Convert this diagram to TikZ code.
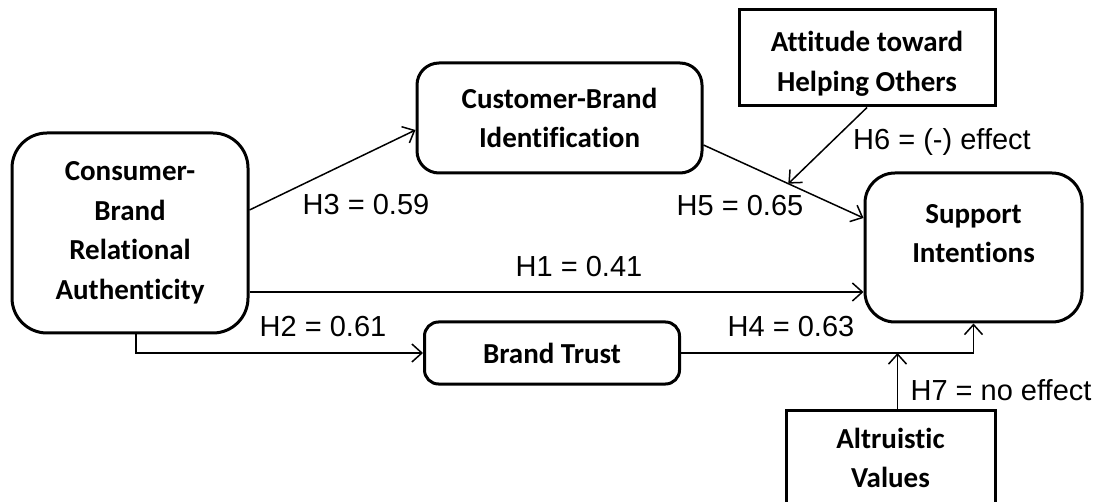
\documentclass[tikz,border=0pt]{standalone}
\usepackage{fontspec}
\setmainfont{Carlito}[Ligatures=NoCommon]
\newfontfamily\labfont{Liberation Sans}
\usetikzlibrary{arrows.meta,calc}
\begin{document}
\begin{tikzpicture}[x=1pt,y=-1pt,
  box/.style={draw,line width=3pt,align=center,font=\fontsize{29}{39.5}\selectfont\bfseries,inner sep=0pt},
  rbox/.style={box,rounded corners=#1},
  btext/.style={align=center,font=\fontsize{29}{39.5}\selectfont\bfseries,inner sep=0pt},
  conn/.style={line width=1.5pt,-{Straight Barb[length=10pt,width=18pt,line width=1.5pt]}},
  lab/.style={font=\labfont\fontsize{29}{34}\selectfont,inner sep=0pt}]
\useasboundingbox (0,0) rectangle (1100,502);
\node[rbox=35pt,minimum width=236pt,minimum height=200pt] (cbra) at (130,233) {Consumer-\\Brand\\Relational\\Authenticity};
\node[rbox=22pt,minimum width=285pt,minimum height=110pt] (cbi) at (559.5,118) {Customer-Brand\\Identification};
\node[box,minimum width=256pt,minimum height=96pt] (att) at (867,58) {};
\node[btext] (atttext) at ([yshift=-6pt]att.center) {Attitude toward\\Helping Others};
\node[rbox=30pt,minimum width=217pt,minimum height=149pt] (sup) at (973.5,247.5) {};
\node[btext] (suptext) at ([yshift=14pt]sup.center) {Support\\Intentions};
\node[rbox=14pt,minimum width=255pt,minimum height=62pt] (bt) at (552,353) {Brand Trust};
\node[box,minimum width=209pt,minimum height=96pt] (alt) at (890.5,458) {Altruistic\\Values};

\coordinate (h5s) at ([yshift=-27pt]cbi.east);
\coordinate (h5e) at ([yshift=29.5pt]sup.west);
\coordinate (h1s) at ([yshift=-59pt]cbra.east);

\draw[conn] ([yshift=23pt]cbra.east) -- ([yshift=-12pt]cbi.west);
\draw[conn] (h5s) -- (h5e);
\draw[conn] (att.south) -- ($(h5s)!0.53!(h5e)$);
\draw[conn] (h1s) -- (h1s -| sup.west);
\draw[conn] ([xshift=6pt]cbra.south) |- (bt.west);
\draw[conn] (bt.east) -| (sup.south);
\draw[conn] ([xshift=7pt]alt.north) -- ([xshift=7pt]alt.north |- bt.east);

\node[lab] (l3) at (366,205) {H3 = 0.59};
\node[lab] (l5) at (740,206) {H5 = 0.65};
\node[lab] (l6) at (942,142) {H6 = (-) effect};
\node[lab] (l1) at (579,267) {H1 = 0.41};
\node[lab] (l2) at (323,327) {H2 = 0.61};
\node[lab] (l4) at (791,327) {H4 = 0.63};
\node[lab] (l7) at (1001,390) {H7 = no effect};
\end{tikzpicture}
\end{document}
